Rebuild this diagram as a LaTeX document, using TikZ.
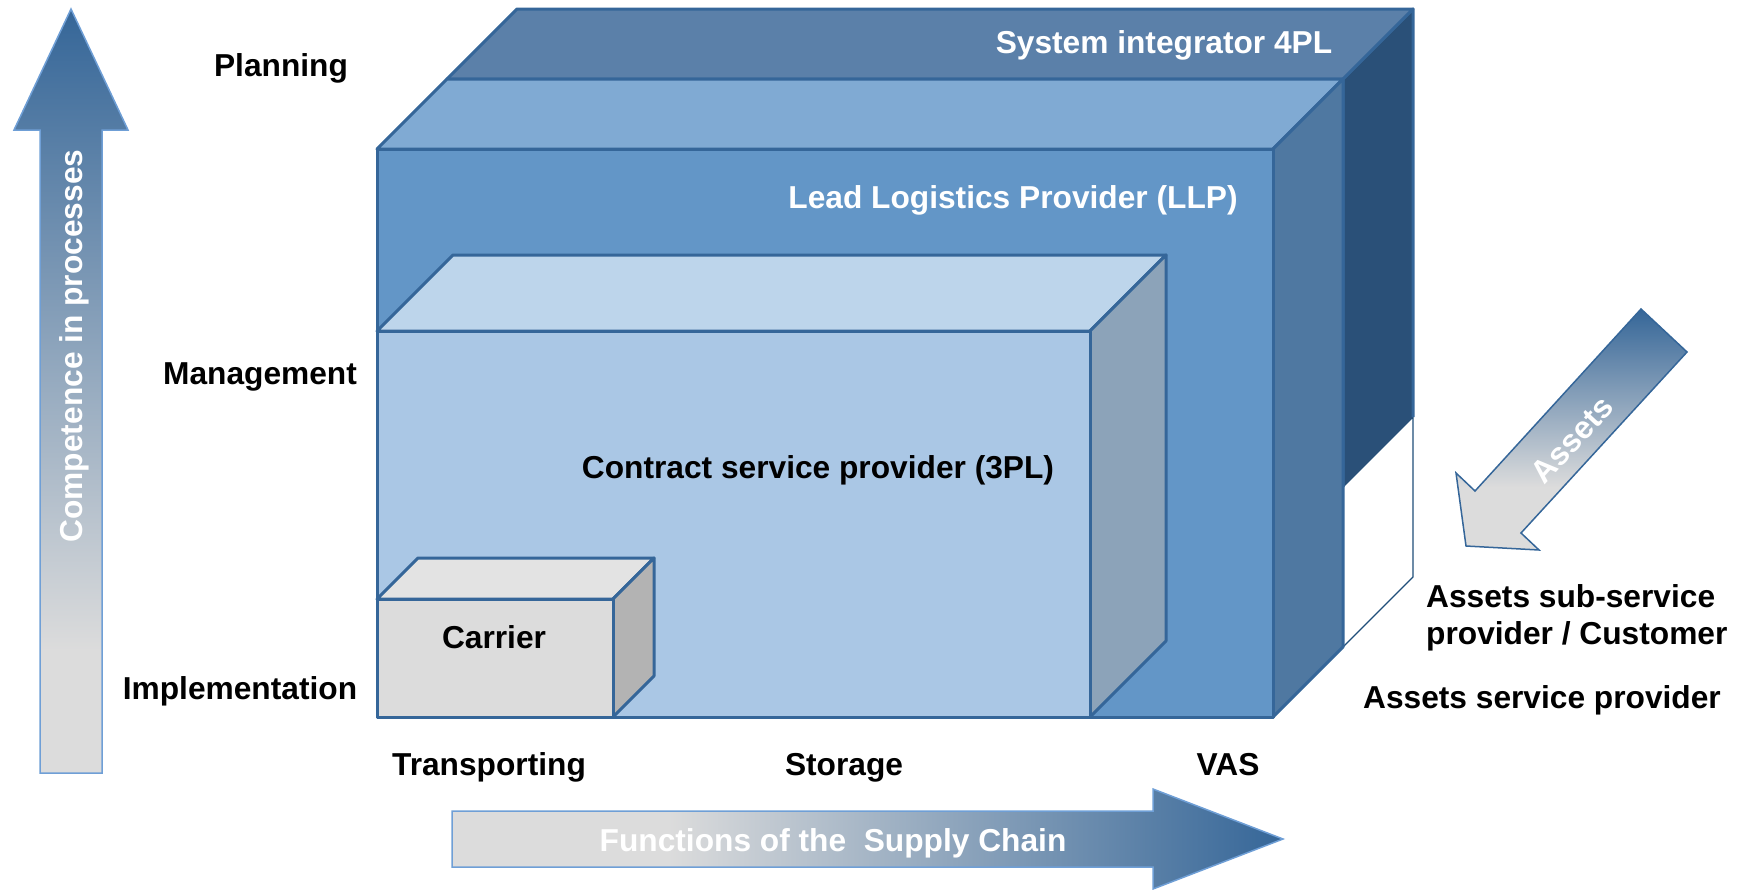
\documentclass[tikz,border=0pt]{standalone}
\usepackage{fontspec}
\setmainfont{Liberation Sans}

\definecolor{edgeblue}{HTML}{356699}
\definecolor{fourtop}{HTML}{5B80A9}
\definecolor{fourside}{HTML}{2A5078}
\definecolor{llptop}{HTML}{80AAD3}
\definecolor{llpfront}{HTML}{6396C7}
\definecolor{llpside}{HTML}{4F78A1}
\definecolor{tpltop}{HTML}{BDD5EB}
\definecolor{tplfront}{HTML}{AAC7E5}
\definecolor{tplside}{HTML}{8CA3B9}
\definecolor{cartop}{HTML}{E3E3E3}
\definecolor{carfront}{HTML}{DCDCDC}
\definecolor{carside}{HTML}{B3B3B3}
\definecolor{arrowdark}{HTML}{356698}
\definecolor{arrowlight}{HTML}{DCDCDC}
\definecolor{arrowrim}{HTML}{6F9FD6}
\definecolor{cutline}{HTML}{1F4E79}

% gradients of the three big arrows (path box = 25bp..75bp)
\pgfdeclareverticalshading{riseshade}{100bp}{color(0bp)=(arrowlight); color(25bp)=(arrowlight); color(33bp)=(arrowlight); color(75bp)=(arrowdark); color(100bp)=(arrowdark)}
\pgfdeclarehorizontalshading{runshade}{100bp}{color(0bp)=(arrowlight); color(25bp)=(arrowlight); color(38bp)=(arrowlight); color(75bp)=(arrowdark); color(100bp)=(arrowdark)}
\pgfdeclareverticalshading{dropshade}{100bp}{color(0bp)=(arrowlight); color(25bp)=(arrowlight); color(38bp)=(arrowlight); color(75bp)=(arrowdark); color(100bp)=(arrowdark)}

% cuboid: #1 left, #2 top, #3 right, #4 bottom of the front face,
% #5 depth (45 degrees), #6 front, #7 top, #8 side fill
\newcommand\drawcuboid[8]{%
  \filldraw[boxedge, fill=#7] (#1,#2) -- ({#1+#5},{#2-#5}) -- ({#3+#5},{#2-#5}) -- (#3,#2) -- cycle;
  \filldraw[boxedge, fill=#8] (#3,#2) -- ({#3+#5},{#2-#5}) -- ({#3+#5},{#4-#5}) -- (#3,#4) -- cycle;
  \filldraw[boxedge, fill=#6] (#1,#2) rectangle (#3,#4);
}

\begin{document}
\begin{tikzpicture}[x=1pt, y=-1pt,
  boxedge/.style={draw=edgeblue, line width=3pt, line join=round},
  lbl/.style={font=\bfseries\fontsize{31.7}{37}\selectfont, inner sep=0pt, anchor=base},
  whitelbl/.style={lbl, text=white},
  rim/.style={draw=arrowrim, line width=1.5pt, line join=miter}]

\useasboundingbox (0,0) rectangle (1739,889);

% ---- system integrator (4PL) box, seen behind the LLP box
\filldraw[draw=cutline, line width=1.3pt, fill=white]
  (1343,487) -- (1413,417) -- (1413,577) -- (1343,647) -- cycle;
\fill[fourside] (1343,79) -- (1413,9) -- (1413,417) -- (1343,487) -- cycle;
\draw[boxedge] (1343,487) -- (1343,79) -- (1413,9) -- (1413,417);
\filldraw[boxedge, fill=fourtop] (447,79) -- (517,9) -- (1413,9) -- (1343,79) -- cycle;

% ---- lead logistics provider, contract provider, carrier
\drawcuboid{377}{149}{1273}{717}{70}{llpfront}{llptop}{llpside}
\drawcuboid{377}{331}{1090}{717}{76}{tplfront}{tpltop}{tplside}
\drawcuboid{377}{599}{613}{717}{41}{carfront}{cartop}{carside}

% ---- box labels
\node[whitelbl] (sys) at (1164,53) {System integrator 4PL};
\node[whitelbl] (llp) at (1013,208) {Lead Logistics Provider (LLP)};
\node[lbl] (tpl) at (818,478) {Contract service provider (3PL)};
\node[lbl] (car) at (494,648) {Carrier};

% ---- level labels
\node[lbl] (plan) at (281,76) {Planning};
\node[lbl] (mgmt) at (260,384) {Management};
\node[lbl] (impl) at (240,699) {Implementation};

% ---- function labels
\node[lbl] (trans) at (489,775) {Transporting};
\node[lbl] (stor) at (844,775) {Storage};
\node[lbl] (vas) at (1228,775) {VAS};

% ---- asset labels
\node[lbl, anchor=base west] (sub1) at (1426,607) {Assets sub-service};
\node[lbl, anchor=base west] (sub2) at (1426,644) {provider / Customer};
\node[lbl] (asp) at (1542,708) {Assets service provider};

% ---- competence arrow
\shade[shading=riseshade] (40,773) -- (40,130) -- (14,130) -- (71,9) -- (128,130) -- (102,130) -- (102,773) -- cycle;
\draw[rim] (40,773) -- (40,130) -- (14,130) -- (71,9) -- (128,130) -- (102,130) -- (102,773) -- cycle;
\node[whitelbl, rotate=90] (comp) at (82,346) {Competence in processes};

% ---- supply chain arrow
\shade[shading=runshade] (452,811) -- (1153,811) -- (1153,789) -- (1283,839) -- (1153,889) -- (1153,867) -- (452,867) -- cycle;
\draw[rim] (452,811) -- (1153,811) -- (1153,789) -- (1283,839) -- (1153,889) -- (1153,867) -- (452,867) -- cycle;
\node[whitelbl] (func) at (833,851) {Functions of the\ \ Supply Chain};

% ---- assets arrow
\shade[shading=dropshade] (1641,309) -- (1687,352) -- (1521,533) -- (1539,550) -- (1466,546) -- (1456,473) -- (1475,491) -- cycle;
\draw[draw=edgeblue, line width=1.5pt, line join=miter] (1641,309) -- (1687,352) -- (1521,533) -- (1539,550) -- (1466,546) -- (1456,473) -- (1475,491) -- cycle;
\node[whitelbl, anchor=center, rotate=47.5] (assets) at (1572,440) {Assets};

\end{tikzpicture}
\end{document}
